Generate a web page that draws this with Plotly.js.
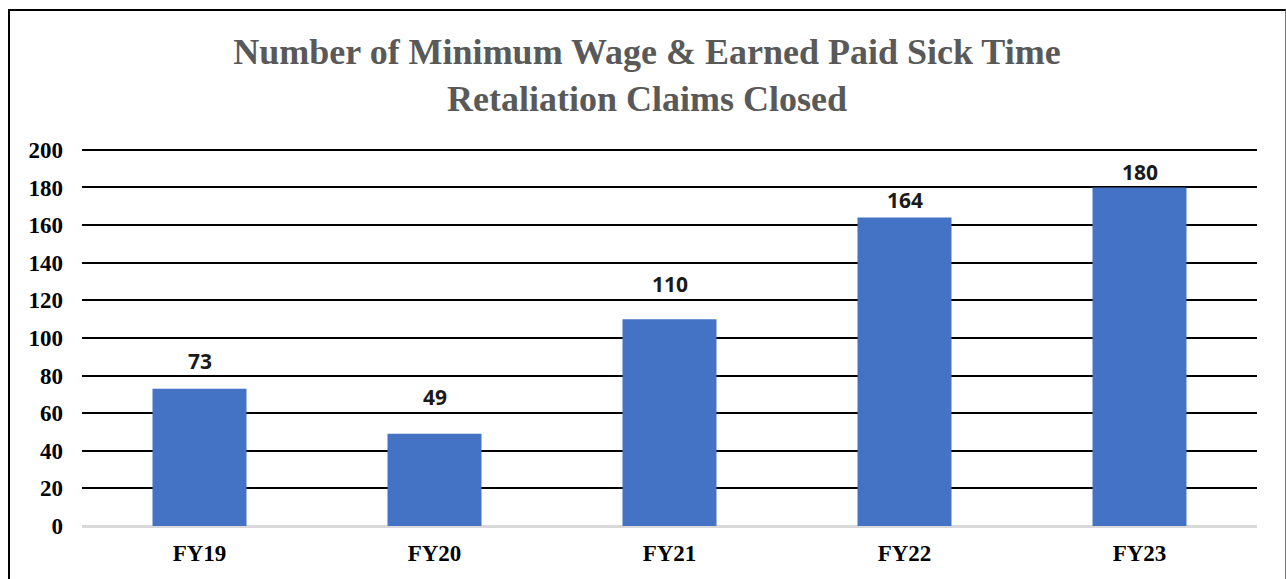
<!DOCTYPE html>
<html>
<head>
<meta charset="utf-8">
<script src="https://cdn.plot.ly/plotly-3.0.1.min.js"></script>
<style>
  html, body { margin: 0; padding: 0; background: #fff; }
  #wrap { position: relative; width: 1286px; height: 579px; overflow: hidden; }
  #chart { width: 1286px; height: 579px; }
  #frame { position: absolute; left: 8px; top: 9px; width: 1275px; height: 600px;
           border-top: 2px solid #000; border-left: 2px solid #000; border-right: 1px solid #777;
           pointer-events: none; }
</style>
</head>
<body>
<div id="wrap">
  <div id="chart"></div>
  <div id="frame"></div>
</div>
<script>
const categories = ["FY19", "FY20", "FY21", "FY22", "FY23"];
const claimsClosed = [73, 49, 110, 164, 180];
const yTicks = [0, 20, 40, 60, 80, 100, 120, 140, 160, 180, 200];

// pixel offsets of each data label above its bar top (as placed in the original)
const labelLift = [28, 37, 35, 18, 15];

const serif = "'Liberation Serif', 'Times New Roman', Times, serif";

const trace = {
  type: "bar",
  x: categories,
  y: claimsClosed,
  width: 0.4,
  marker: { color: "#4472c4" },
  hoverinfo: "x+y"
};

const annotations = categories.map((c, i) => ({
  x: c, y: claimsClosed[i], xref: "x", yref: "y",
  text: "<b>" + claimsClosed[i] + "</b>",
  showarrow: false, yanchor: "middle", yshift: labelLift[i],
  font: { family: "'Open Sans', sans-serif", size: 21, color: "#1a1a1a" }
}));

const layout = {
  width: 1286, height: 579,
  paper_bgcolor: "#fff", plot_bgcolor: "#fff",
  margin: { l: 82, r: 29, t: 148, b: 53 },
  showlegend: false,
  title: {
    text: "<b>Number of Minimum Wage &amp; Earned Paid Sick Time<br>Retaliation Claims Closed</b>",
    font: { family: serif, size: 36, color: "#595959" },
    x: 647 / 1286, xref: "container", xanchor: "center",
    y: 1 - 64 / 579, yref: "container", yanchor: "middle"
  },
  xaxis: {
    type: "category",
    showgrid: false, showline: false, zeroline: false,
    ticks: "", ticklabelstandoff: 11,
    tickfont: { family: serif, size: 23, color: "#000", weight: "bold" }
  },
  yaxis: {
    range: [0, 201],
    tickvals: yTicks, ticktext: yTicks.map(v => "<b>" + v + "</b>"),
    showgrid: true, gridcolor: "#000", gridwidth: 2,
    zeroline: true, zerolinecolor: "#d9d9d9", zerolinewidth: 3,
    showline: false, ticks: "", ticklabelstandoff: 18,
    tickfont: { family: serif, size: 23, color: "#000" }
  },
  annotations: annotations
};

Plotly.newPlot("chart", [trace], layout, { displayModeBar: false, staticPlot: true });
</script>
</body>
</html>
